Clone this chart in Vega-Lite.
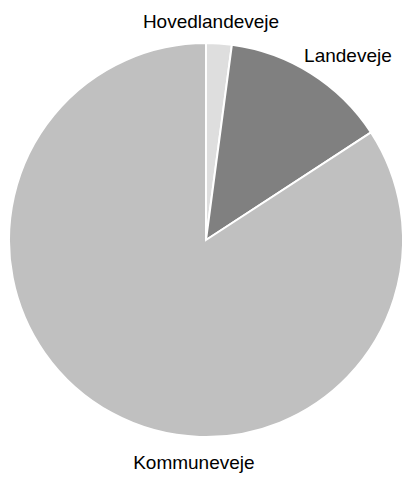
{
  "$schema": "https://vega.github.io/schema/vega-lite/v6.json",
  "width": 392,
  "height": 474,
  "autosize": "none",
  "padding": {"left": 10, "right": 0, "top": 3, "bottom": 0},
  "background": "white",
  "config": {"view": {"stroke": null}},
  "data": {
    "values": [
      {"type": "Hovedlandeveje", "share": 2.1},
      {"type": "Landeveje", "share": 13.7},
      {"type": "Kommuneveje", "share": 84.2}
    ]
  },
  "transform": [
    {"calculate": "indexof(['Hovedlandeveje','Landeveje','Kommuneveje'], datum.type)", "as": "ord"},
    {"stack": "share", "groupby": [], "sort": [{"field": "ord", "order": "ascending"}], "as": ["s0", "s1"]},
    {"calculate": "(datum.s0 + datum.s1) / 2", "as": "mid"}
  ],
  "encoding": {
    "color": {
      "field": "type",
      "type": "nominal",
      "scale": {"domain": ["Hovedlandeveje", "Landeveje", "Kommuneveje"], "range": ["#dedede", "#808080", "#c0c0c0"]},
      "legend": null
    }
  },
  "layer": [
    {
      "mark": {"type": "arc", "outerRadius": 197, "stroke": "white", "strokeWidth": 2},
      "encoding": {
        "theta": {"field": "s0", "type": "quantitative", "stack": null, "scale": {"domain": [0, 100]}},
        "theta2": {"field": "s1"}
      }
    },
    {
      "transform": [{"filter": "datum.type === 'Hovedlandeveje'"}],
      "mark": {"type": "text", "radius": 218, "thetaOffset": -0.043, "font": "Liberation Sans", "fontSize": 19, "baseline": "middle", "align": "center"},
      "encoding": {"theta": {"field": "mid", "type": "quantitative", "stack": null, "scale": {"domain": [0, 100]}}, "text": {"field": "type"}, "color": {"value": "black"}}
    },
    {
      "transform": [{"filter": "datum.type === 'Landeveje'"}],
      "mark": {"type": "text", "radius": 232, "thetaOffset": 0.096, "font": "Liberation Sans", "fontSize": 19, "baseline": "middle", "align": "center"},
      "encoding": {"theta": {"field": "mid", "type": "quantitative", "stack": null, "scale": {"domain": [0, 100]}}, "text": {"field": "type"}, "color": {"value": "black"}}
    },
    {
      "transform": [{"filter": "datum.type === 'Kommuneveje'"}],
      "mark": {"type": "text", "radius": 223, "thetaOffset": -0.442, "font": "Liberation Sans", "fontSize": 19, "baseline": "middle", "align": "center"},
      "encoding": {"theta": {"field": "mid", "type": "quantitative", "stack": null, "scale": {"domain": [0, 100]}}, "text": {"field": "type"}, "color": {"value": "black"}}
    }
  ]
}
